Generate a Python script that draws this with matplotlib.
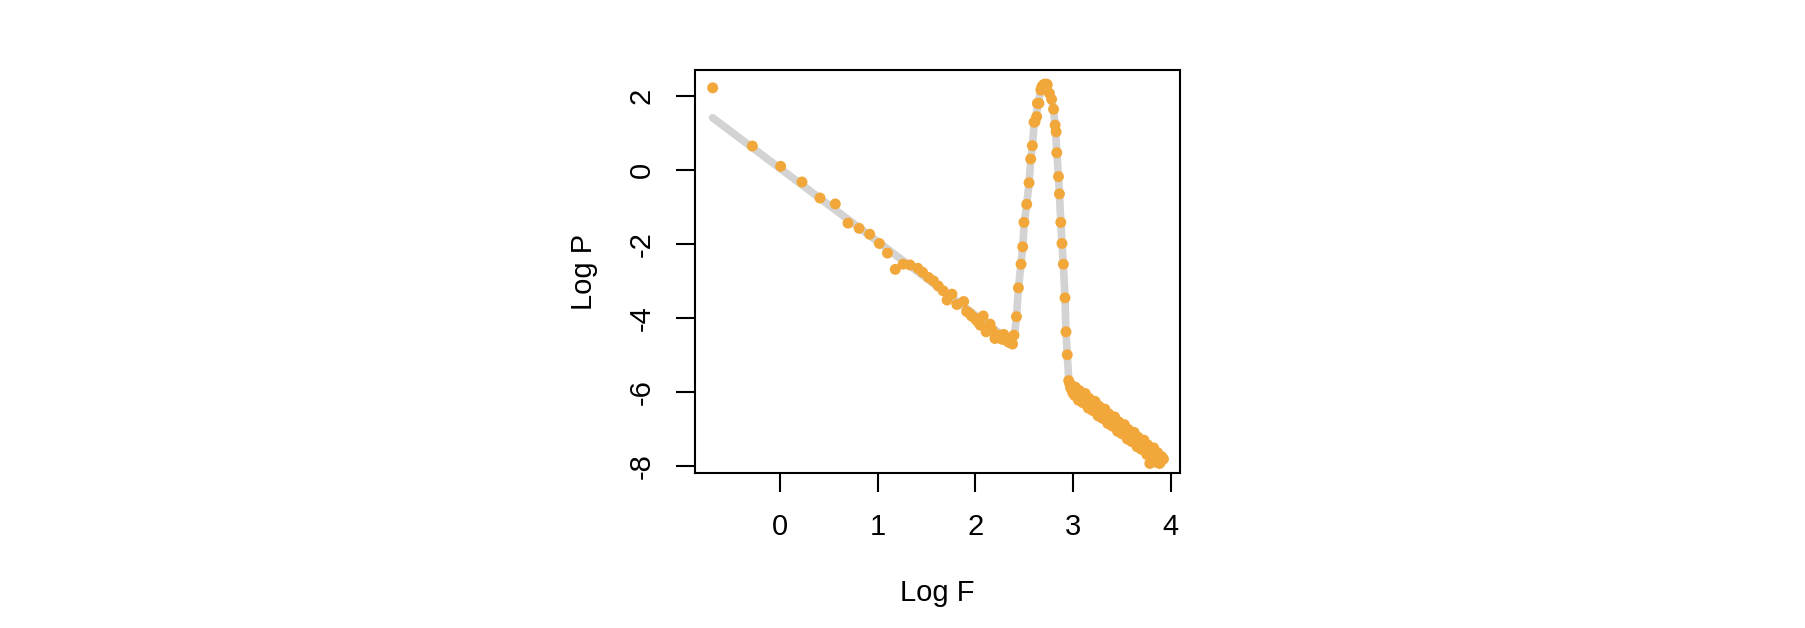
import matplotlib
matplotlib.use("Agg")
import matplotlib.pyplot as plt

plt.rcParams['font.family'] = ['Liberation Sans', 'DejaVu Sans']

# Observed points (log10 frequency, log10 power)
log_f = [-0.689, -0.283, 0.007, 0.225, 0.409, 0.566, 0.696, 0.81, 0.918, 1.017,
         1.10, 1.18, 1.26, 1.33, 1.41, 1.46, 1.52, 1.57, 1.62, 1.67,
         1.71, 1.76, 1.81, 1.88, 1.91, 1.94, 1.96, 1.99, 2.01, 2.03,
         2.05, 2.08, 2.11, 2.13, 2.15, 2.17, 2.20, 2.22, 2.245, 2.27,
         2.29, 2.31, 2.34, 2.36, 2.38,
         2.395, 2.42, 2.44, 2.467, 2.484, 2.497, 2.525, 2.549, 2.566, 2.583,
         2.60, 2.61, 2.627, 2.634, 2.65, 2.67, 2.68, 2.695, 2.71, 2.73,
         2.735, 2.757, 2.78, 2.80, 2.816, 2.826, 2.833, 2.85, 2.86, 2.874,
         2.886, 2.90, 2.917, 2.927, 2.94,
         2.955, 2.965, 2.975, 2.985, 2.995, 3.005, 3.015, 3.025, 3.035, 3.045,
         3.055, 3.065, 3.075, 3.085, 3.095, 3.105, 3.115, 3.125, 3.135, 3.145,
         3.155, 3.165, 3.175, 3.185, 3.195, 3.205, 3.215, 3.225, 3.235, 3.245,
         3.255, 3.265, 3.275, 3.285, 3.295, 3.305, 3.315, 3.325, 3.335, 3.345,
         3.355, 3.365, 3.375, 3.385, 3.395, 3.405, 3.415, 3.425, 3.435, 3.445,
         3.455, 3.465, 3.475, 3.485, 3.495, 3.505, 3.515, 3.525, 3.535, 3.545,
         3.555, 3.565, 3.575, 3.585, 3.595, 3.605, 3.615, 3.625, 3.635, 3.645,
         3.655, 3.665, 3.675, 3.685, 3.695, 3.705, 3.715, 3.725, 3.735, 3.745,
         3.755, 3.765, 3.775, 3.785, 3.795, 3.805, 3.815, 3.825, 3.835, 3.845,
         3.855, 3.865, 3.875, 3.885, 3.895, 3.905, 3.915, 3.925]
log_p = [2.22, 0.646, 0.097, -0.327, -0.76, -0.92, -1.44, -1.58, -1.74, -1.99,
         -2.25, -2.69, -2.55, -2.57, -2.66, -2.77, -2.91, -3.0, -3.14, -3.27,
         -3.52, -3.36, -3.64, -3.56, -3.83, -3.88, -3.95, -4.0, -4.06, -4.12,
         -4.2, -3.95, -4.38, -4.25, -4.17, -4.33, -4.56, -4.5, -4.47, -4.58,
         -4.45, -4.60, -4.66, -4.68, -4.71,
         -4.47, -3.97, -3.19, -2.55, -2.08, -1.42, -0.93, -0.35, 0.295, 0.655,
         1.29, 1.30, 1.44, 1.80, 1.80, 2.16, 2.25, 2.30, 2.32, 2.32,
         2.30, 2.07, 1.91, 1.64, 1.21, 1.03, 0.465, -0.18, -0.65, -1.42,
         -1.99, -2.55, -3.46, -4.38, -5.0,
         -5.70, -5.78, -5.90, -5.86, -6.02, -5.86, -6.10, -5.88, -6.07, -6.02,
         -6.23, -5.97, -6.19, -6.07, -6.29, -6.07, -6.31, -6.05, -6.28, -6.23,
         -6.44, -6.18, -6.40, -6.28, -6.50, -6.28, -6.52, -6.26, -6.49, -6.44,
         -6.65, -6.39, -6.61, -6.49, -6.71, -6.49, -6.73, -6.47, -6.70, -6.65,
         -6.86, -6.60, -6.82, -6.70, -6.92, -6.70, -6.94, -6.68, -6.91, -6.86,
         -7.07, -6.81, -7.03, -6.91, -7.13, -6.91, -7.15, -6.89, -7.12, -7.07,
         -7.28, -7.02, -7.24, -7.12, -7.34, -7.12, -7.36, -7.10, -7.33, -7.28,
         -7.49, -7.23, -7.45, -7.33, -7.55, -7.33, -7.57, -7.31, -7.54, -7.49,
         -7.70, -7.44, -7.66, -7.94, -7.76, -7.54, -7.78, -7.52, -7.75, -7.70,
         -7.91, -7.65, -7.87, -7.94, -7.90, -7.75, -7.80, -7.82]

# Fitted curve
fit_f = [-0.69, 0.0, 1.0, 2.0, 2.30, 2.38, 2.40, 2.42, 2.44, 2.467,
         2.484, 2.50, 2.525, 2.55, 2.566, 2.583, 2.60, 2.627, 2.645, 2.67,
         2.70, 2.73, 2.757, 2.78, 2.80, 2.816, 2.833, 2.85, 2.86, 2.874,
         2.886, 2.90, 2.917, 2.927, 2.94, 2.955, 2.97, 3.0, 3.5, 3.93]
fit_p = [1.41, 0.04, -1.94, -3.93, -4.52, -4.62, -4.45, -4.0, -3.2, -2.55,
         -2.08, -1.42, -0.93, -0.35, 0.29, 0.65, 1.22, 1.55, 1.85, 2.15,
         2.30, 2.30, 2.10, 1.90, 1.60, 1.20, 0.50, -0.20, -0.65, -1.42,
         -1.99, -2.55, -3.46, -4.38, -5.0, -5.65, -5.85, -5.94, -6.98, -7.80]

x_ticks = [0, 1, 2, 3, 4]
y_ticks = [2, 0, -2, -4, -6, -8]

fig = plt.figure(figsize=(18.06, 6.28), dpi=100)
ax = fig.add_axes([695 / 1806, 1 - 473 / 628, 485 / 1806, 403 / 628])

ax.plot(fit_f, fit_p, color='#d3d3d3', lw=5.5, solid_capstyle='round', zorder=1)
ax.scatter(log_f, log_p, s=62, color='#F2A73B', edgecolors='none', zorder=2)

ax.set_xlim(-0.870, 4.094)
ax.set_ylim(-8.198, 2.702)
ax.set_xticks(x_ticks)
ax.set_yticks(y_ticks)
ax.set_yticklabels([str(v) for v in y_ticks], rotation=90, va='center')

for s in ax.spines.values():
    s.set_linewidth(1.5)
ax.tick_params(axis='both', direction='out', length=13.5, width=1.5,
               labelsize=21)
ax.tick_params(axis='x', pad=15)
ax.tick_params(axis='y', pad=15)

ax.set_xlabel('Log F', fontsize=21)
ax.set_ylabel('Log P', fontsize=21)
ax.xaxis.set_label_coords(0.5, -120 / 403)
ax.xaxis.label.set_va('center')
ax.yaxis.set_label_coords(-111 / 485, 0.5)
ax.yaxis.label.set_va('center')

fig.savefig('out.png', dpi=100, facecolor='white')
